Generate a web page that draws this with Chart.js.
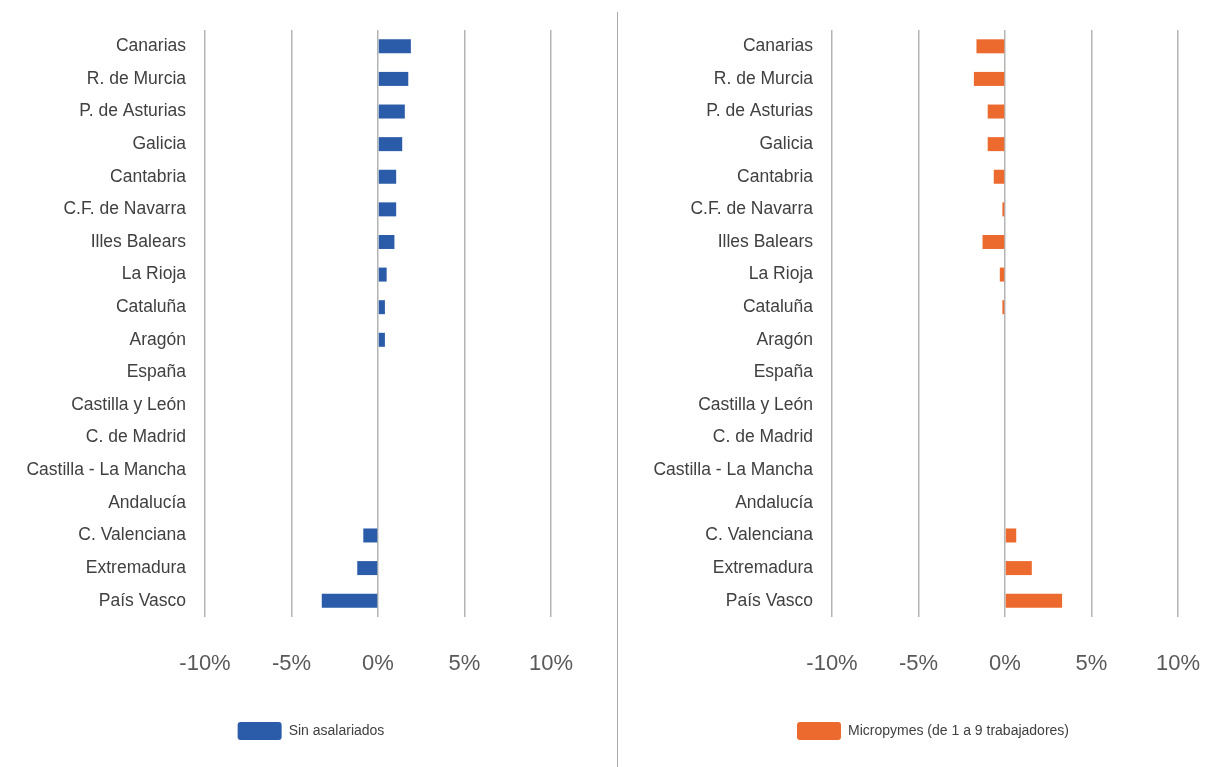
<!DOCTYPE html>
<html>
<head>
<meta charset="utf-8">
<script src="https://cdn.jsdelivr.net/npm/chart.js@4/dist/chart.umd.min.js"></script>
<style>
  html, body { margin: 0; padding: 0; background: #ffffff; overflow: hidden; }
  body { width: 1209px; height: 767px; position: relative; }
  .panel { position: absolute; top: 0; height: 767px; }
  #leftPanel { left: 0; width: 622px; }
  #rightPanel { left: 618px; width: 630px; }
  #divider { position: absolute; left: 616.5px; top: 12px; width: 1.5px; height: 755px; background: #a8a8a8; }
</style>
</head>
<body>
<div id="leftPanel" class="panel"><canvas id="leftChart"></canvas></div>
<div id="rightPanel" class="panel"><canvas id="rightChart"></canvas></div>
<div id="divider"></div>
<script>
// ---- Data ----
const categories = [
  "Canarias", "R. de Murcia", "P. de Asturias", "Galicia", "Cantabria",
  "C.F. de Navarra", "Illes Balears", "La Rioja", "Cataluña", "Aragón",
  "España", "Castilla y León", "C. de Madrid", "Castilla - La Mancha",
  "Andalucía", "C. Valenciana", "Extremadura", "País Vasco"
];
const sinAsalariados = [1.9, 1.75, 1.55, 1.4, 1.05, 1.05, 0.95, 0.5, 0.4, 0.4, 0, 0, 0, 0, 0, -0.85, -1.2, -3.25];
const micropymes = [-1.65, -1.8, -1.0, -1.0, -0.65, -0.15, -1.3, -0.3, -0.15, 0, 0, 0, 0, 0, 0, 0.65, 1.55, 3.3];
const xTickValues = [-10, -5, 0, 5, 10];
const seriesNames = ["Sin asalariados", "Micropymes (de 1 a 9 trabajadores)"];
const seriesColors = ["#2b5ca9", "#ed6a2f"];

const FONT = "'Liberation Sans', Arial, sans-serif";

function makeChart(canvasId, label, values, color, yAxisWidth, rightGap) {
  return new Chart(document.getElementById(canvasId), {
    type: 'bar',
    data: {
      labels: categories,
      datasets: [{
        label: label,
        data: values,
        backgroundColor: color,
        borderWidth: 0,
        inflateAmount: 0,
        barThickness: 14
      }]
    },
    options: {
      indexAxis: 'y',
      responsive: true,
      maintainAspectRatio: false,
      animation: false,
      layout: { padding: { top: 30, bottom: 17, left: 0, right: 0 } },
      plugins: {
        tooltip: { enabled: false },
        legend: {
          display: true,
          position: 'bottom',
          align: 'center',
          labels: {
            boxWidth: 44,
            boxHeight: 18,
            padding: 10,
            useBorderRadius: true,
            borderRadius: 3,
            color: '#404040',
            font: { family: FONT, size: 14 }
          }
        }
      },
      scales: {
        x: {
          type: 'linear',
          min: -10,
          max: 10,
          afterBuildTicks: (scale) => { scale.ticks = xTickValues.map(v => ({ value: v })); },
          afterFit: (scale) => { scale.height = 95; },
          grid: { display: true, drawTicks: false, color: '#b4b4b4', lineWidth: 1.5 },
          border: { display: false },
          ticks: {
            padding: 34,
            color: '#595959',
            font: { family: FONT, size: 22 },
            callback: (v) => v + '%'
          }
        },
        y: {
          type: 'category',
          position: 'left',
          afterFit: (scale) => { scale.width = yAxisWidth; },
          grid: { display: false, drawTicks: false },
          border: { display: false },
          ticks: {
            padding: 19,
            color: '#404040',
            font: { family: FONT, size: 17.5 }
          }
        },
        y2: {
          type: 'category',
          position: 'right',
          afterFit: (scale) => { scale.width = rightGap; },
          grid: { display: false, drawTicks: false },
          border: { display: false },
          ticks: { display: false }
        }
      }
    }
  });
}

makeChart('leftChart', seriesNames[0], sinAsalariados, seriesColors[0], 205, 71);
makeChart('rightChart', seriesNames[1], micropymes, seriesColors[1], 214, 70);
</script>
</body>
</html>
